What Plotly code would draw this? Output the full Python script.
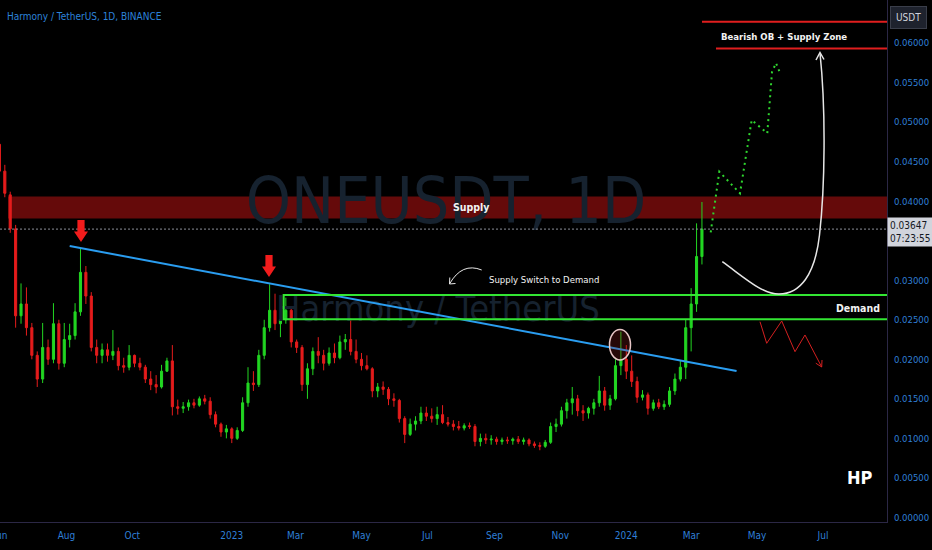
import plotly.graph_objects as go
import pandas as pd

# ---------------- data ----------------
candle_start = "2022-05-31"      # first 5-day candle
candle_step = "5D"

opens = [
    0.0472, 0.0438, 0.0408, 0.0365, 0.0255, 0.0270, 0.0240, 0.0205, 0.0175, 0.0215,
    0.0200, 0.0245, 0.0195, 0.0225, 0.0230, 0.0260, 0.0310, 0.0280, 0.0215, 0.0205,
    0.0212, 0.0205, 0.0210, 0.0192, 0.0190, 0.0205, 0.0195, 0.0190, 0.0175, 0.0168,
    0.0165, 0.0185, 0.0198, 0.0140, 0.0138, 0.0140, 0.0145, 0.0142, 0.0150, 0.0147,
    0.0130, 0.0118, 0.0108, 0.0112, 0.0100, 0.0110, 0.0145, 0.0170, 0.0168, 0.0205,
    0.0240, 0.0262, 0.0245, 0.0250, 0.0262, 0.0222, 0.0215, 0.0168, 0.0188, 0.0210,
    0.0205, 0.0195, 0.0208, 0.0202, 0.0222, 0.0225, 0.0210, 0.0200, 0.0192, 0.0188,
    0.0160, 0.0165, 0.0162, 0.0150, 0.0148, 0.0125, 0.0105, 0.0118, 0.0122, 0.0132,
    0.0128, 0.0125, 0.0130, 0.0120, 0.0118, 0.0115, 0.0113, 0.0116, 0.0115, 0.0096,
    0.0100, 0.0098, 0.0099, 0.0096, 0.0098, 0.0097, 0.0099, 0.0096, 0.0098, 0.0093,
    0.0091, 0.0090, 0.0095, 0.0115, 0.0118, 0.0135, 0.0145, 0.0150, 0.0135, 0.0132,
    0.0138, 0.0145, 0.0160, 0.0142, 0.0150, 0.0192, 0.0200, 0.0185, 0.0172, 0.0152,
    0.0155, 0.0138, 0.0145, 0.0140, 0.0143, 0.0160, 0.0175, 0.0190, 0.0240, 0.0270,
    0.0330,
]
highs = [
    0.0485, 0.0446, 0.0412, 0.0370, 0.0296, 0.0291, 0.0246, 0.0210, 0.0246, 0.0225,
    0.0271, 0.0250, 0.0246, 0.0245, 0.0271, 0.0341, 0.0318, 0.0285, 0.0225, 0.0220,
    0.0220, 0.0237, 0.0215, 0.0202, 0.0218, 0.0206, 0.0202, 0.0193, 0.0185, 0.0180,
    0.0193, 0.0202, 0.0218, 0.0149, 0.0146, 0.0149, 0.0150, 0.0153, 0.0155, 0.0152,
    0.0134, 0.0120, 0.0117, 0.0114, 0.0114, 0.0152, 0.0190, 0.0185, 0.0212, 0.0250,
    0.0295, 0.0283, 0.0280, 0.0278, 0.0265, 0.0225, 0.0218, 0.0195, 0.0215, 0.0228,
    0.0212, 0.0215, 0.0220, 0.0230, 0.0232, 0.0252, 0.0225, 0.0208, 0.0205, 0.0190,
    0.0170, 0.0172, 0.0165, 0.0157, 0.0150, 0.0128, 0.0125, 0.0128, 0.0140, 0.0140,
    0.0138, 0.0140, 0.0142, 0.0127, 0.0123, 0.0122, 0.0119, 0.0120, 0.0118, 0.0106,
    0.0106, 0.0104, 0.0102, 0.0101, 0.0102, 0.0101, 0.0103, 0.0101, 0.0100, 0.0096,
    0.0095, 0.0098, 0.0120, 0.0125, 0.0140, 0.0150, 0.0165, 0.0155, 0.0142, 0.0140,
    0.0150, 0.0179, 0.0165, 0.0155, 0.0200, 0.0235, 0.0218, 0.0205, 0.0178, 0.0161,
    0.0158, 0.0149, 0.0150, 0.0148, 0.0165, 0.0182, 0.0199, 0.0250, 0.0290, 0.0372,
    0.0399,
]
lows = [
    0.0430, 0.0405, 0.0360, 0.0240, 0.0245, 0.0230, 0.0200, 0.0165, 0.0170, 0.0193,
    0.0195, 0.0187, 0.0190, 0.0215, 0.0225, 0.0255, 0.0270, 0.0210, 0.0195, 0.0195,
    0.0197, 0.0199, 0.0186, 0.0183, 0.0186, 0.0190, 0.0186, 0.0170, 0.0161, 0.0157,
    0.0163, 0.0184, 0.0129, 0.0130, 0.0132, 0.0135, 0.0138, 0.0140, 0.0143, 0.0125,
    0.0114, 0.0102, 0.0100, 0.0094, 0.0098, 0.0108, 0.0140, 0.0160, 0.0165, 0.0200,
    0.0235, 0.0237, 0.0228, 0.0245, 0.0215, 0.0208, 0.0160, 0.0150, 0.0180, 0.0195,
    0.0186, 0.0192, 0.0195, 0.0200, 0.0212, 0.0205, 0.0195, 0.0186, 0.0186, 0.0152,
    0.0152, 0.0155, 0.0142, 0.0140, 0.0120, 0.0094, 0.0103, 0.0110, 0.0118, 0.0122,
    0.0120, 0.0117, 0.0118, 0.0115, 0.0110, 0.0110, 0.0110, 0.0112, 0.0090, 0.0090,
    0.0093, 0.0092, 0.0092, 0.0092, 0.0093, 0.0092, 0.0093, 0.0092, 0.0090, 0.0088,
    0.0085, 0.0088, 0.0093, 0.0108, 0.0115, 0.0125, 0.0130, 0.0128, 0.0122, 0.0125,
    0.0130, 0.0140, 0.0135, 0.0136, 0.0148, 0.0180, 0.0175, 0.0165, 0.0145, 0.0148,
    0.0130, 0.0135, 0.0137, 0.0136, 0.0140, 0.0155, 0.0172, 0.0175, 0.0210, 0.0260,
    0.0320,
]
closes = [
    0.0438, 0.0410, 0.0365, 0.0255, 0.0270, 0.0240, 0.0205, 0.0175, 0.0215, 0.0200,
    0.0245, 0.0195, 0.0225, 0.0230, 0.0260, 0.0310, 0.0280, 0.0215, 0.0205, 0.0212,
    0.0205, 0.0210, 0.0192, 0.0190, 0.0205, 0.0195, 0.0190, 0.0175, 0.0168, 0.0165,
    0.0185, 0.0198, 0.0140, 0.0138, 0.0140, 0.0145, 0.0142, 0.0150, 0.0147, 0.0130,
    0.0118, 0.0108, 0.0112, 0.0100, 0.0110, 0.0145, 0.0170, 0.0168, 0.0205, 0.0240,
    0.0262, 0.0245, 0.0250, 0.0262, 0.0222, 0.0215, 0.0168, 0.0188, 0.0210, 0.0205,
    0.0195, 0.0208, 0.0202, 0.0222, 0.0225, 0.0210, 0.0200, 0.0192, 0.0188, 0.0160,
    0.0165, 0.0162, 0.0150, 0.0148, 0.0125, 0.0105, 0.0118, 0.0122, 0.0132, 0.0128,
    0.0125, 0.0130, 0.0120, 0.0118, 0.0115, 0.0113, 0.0116, 0.0115, 0.0096, 0.0100,
    0.0098, 0.0099, 0.0096, 0.0098, 0.0097, 0.0099, 0.0096, 0.0098, 0.0093, 0.0091,
    0.0090, 0.0095, 0.0115, 0.0118, 0.0135, 0.0145, 0.0150, 0.0135, 0.0132, 0.0138,
    0.0145, 0.0160, 0.0142, 0.0150, 0.0192, 0.0200, 0.0185, 0.0172, 0.0152, 0.0155,
    0.0138, 0.0145, 0.0140, 0.0143, 0.0160, 0.0175, 0.0190, 0.0240, 0.0270, 0.0330,
    0.03647,
]

trend_dates = ["2022-08-04", "2024-04-12"]
trend_prices = [0.03433, 0.01852]

supply_zone = [0.0378, 0.0406]
demand_zone = [0.02506, 0.02813]
demand_start = "2023-02-18"
bearish_ob_lines = [0.0627, 0.0593]
last_price = 0.03647
last_price_text = "0.03647"
countdown_text = "07:23:55"

price_ticks = [0.0, 0.005, 0.010, 0.015, 0.020, 0.025, 0.030, 0.040, 0.045, 0.050,
               0.055, 0.060]
tick_dates = ["2022-06-01", "2022-08-01", "2022-10-01", "2023-01-01", "2023-03-01",
              "2023-05-01", "2023-07-01", "2023-09-01", "2023-11-01", "2024-01-01",
              "2024-03-01", "2024-05-01", "2024-07-01"]
tick_labels = ["Jun", "Aug", "Oct", "2023", "Mar", "May", "Jul", "Sep", "Nov", "2024",
               "Mar", "May", "Jul"]

# ---------------- styling / geometry ----------------
FONT = "DejaVu Sans Condensed, DejaVu Sans, sans-serif"
BLUE = "#2f7fd6"
GREEN = "#22d622"
RED = "#e51c1c"
ZONE_GREEN = "#33e633"
AXIS = "#2b2745"

W, H = 887.0, 522.0                     # plot area in pixels
X_RANGE = ["2022-05-31 13:00", "2024-08-29 05:00"]
Y_RANGE = [-0.00058, 0.06545]


def px(x):
    return x / W


def py(y):
    return 1 - y / H


def poly(points, closed=False):
    s = "M " + " L ".join(f"{px(a):.5f},{py(b):.5f}" for a, b in points)
    return s + (" Z" if closed else "")


def P(a, b):
    return f"{px(a):.5f},{py(b):.5f}"


x0 = pd.Timestamp(X_RANGE[0])
x1 = pd.Timestamp(X_RANGE[1])


def pdate(xpix):
    return x0 + (x1 - x0) * (xpix / W)


def pprice(ypix):
    return Y_RANGE[1] - (Y_RANGE[1] - Y_RANGE[0]) * (ypix / H)


dates = pd.date_range(start=candle_start, periods=len(closes), freq=candle_step)

fig = go.Figure()

# watermark (drawn first -> below candles)
fig.add_trace(go.Scatter(
    x=[pdate(446)], y=[pprice(207)], mode="text", text=["ONEUSDT, 1D"],
    textfont=dict(family=FONT, size=64, color="#16222f"),
    hoverinfo="skip", showlegend=False, cliponaxis=False))
fig.add_trace(go.Scatter(
    x=[pdate(438)], y=[pprice(312)], mode="text", text=["Harmony / TetherUS"],
    textfont=dict(family=FONT, size=36, color="#16222f"),
    hoverinfo="skip", showlegend=False, cliponaxis=False))

fig.add_trace(go.Candlestick(
    x=dates, open=opens, high=highs, low=lows, close=closes,
    increasing=dict(line=dict(color=GREEN, width=1), fillcolor=GREEN),
    decreasing=dict(line=dict(color=RED, width=1), fillcolor=RED),
    whiskerwidth=0, hoverinfo="skip", showlegend=False))

fig.add_trace(go.Scatter(
    x=trend_dates, y=trend_prices, mode="lines",
    line=dict(color="#2a9df0", width=2), hoverinfo="skip", showlegend=False))

shapes = []
# supply band
shapes.append(dict(type="rect", xref="paper", yref="y", x0=px(8), x1=1,
                   y0=supply_zone[0], y1=supply_zone[1],
                   fillcolor="#650a0a", line=dict(width=0), layer="below"))
# last price dotted line
shapes.append(dict(type="line", xref="paper", yref="y", x0=0, x1=1,
                   y0=last_price, y1=last_price,
                   line=dict(color="#8c8f99", width=1, dash="2px,2px")))
# demand box
shapes.append(dict(type="rect", xref="x", yref="y", x0=demand_start, x1="2024-10-30",
                   y0=demand_zone[0], y1=demand_zone[1],
                   line=dict(color=ZONE_GREEN, width=2)))
# bearish OB lines
shapes.append(dict(type="line", xref="paper", yref="y", x0=px(702), x1=1,
                   y0=bearish_ob_lines[0], y1=bearish_ob_lines[0],
                   line=dict(color="#e01e1e", width=2)))
shapes.append(dict(type="line", xref="paper", yref="y", x0=px(716), x1=1,
                   y0=bearish_ob_lines[1], y1=bearish_ob_lines[1],
                   line=dict(color="#e01e1e", width=2)))
# red down arrows
for cx, top in [(81, 220), (269, 255)]:
    shapes.append(dict(type="path", xref="paper", yref="paper",
                       path=poly([(cx - 3.6, top), (cx + 3.6, top), (cx + 3.6, top + 11.5),
                                  (cx + 7, top + 11.5), (cx, top + 22), (cx - 7, top + 11.5),
                                  (cx - 3.6, top + 11.5)], closed=True),
                       fillcolor="#f21c1c", line=dict(width=0)))
# circle around Jan-2024 high
shapes.append(dict(type="circle", xref="paper", yref="paper",
                   x0=px(609.5), x1=px(630.5), y0=py(360), y1=py(329.5),
                   fillcolor="rgba(150,30,30,0.25)", line=dict(color="#e6c6c6", width=1.5)))
# supply -> demand curved arrow
shapes.append(dict(type="path", xref="paper", yref="paper",
                   path=f"M {P(481.7, 270)} Q {P(462, 262)} {P(449.5, 284)}",
                   line=dict(color="#e8e8e8", width=1)))
shapes.append(dict(type="path", xref="paper", yref="paper",
                   path=poly([(449.8, 277.5), (449.5, 284), (455.5, 283.5)]),
                   line=dict(color="#e8e8e8", width=1)))
# white U-shaped arrow
shapes.append(dict(type="path", xref="paper", yref="paper",
                   path=(f"M {P(722.3, 261.7)} C {P(745, 278)} {P(762, 294)} {P(779, 294)} "
                         f"C {P(800, 294)} {P(815, 275)} {P(819.5, 235)} "
                         f"C {P(825, 187)} {P(826, 110)} {P(820, 53)}"),
                   line=dict(color="#e6e6e6", width=1.5)))
shapes.append(dict(type="path", xref="paper", yref="paper",
                   path=poly([(816, 60), (820, 52.5), (824, 59.5)]),
                   line=dict(color="#e6e6e6", width=1.5)))
# green dotted projection
shapes.append(dict(type="path", xref="paper", yref="paper",
                   path=poly([(710.7, 232.3), (719.3, 171.7), (740, 193.3), (751.7, 120),
                              (767.3, 133.3), (772, 72), (776, 63), (780, 73)]),
                   line=dict(color="#2fd62f", width=2, dash="2px,4px")))
# red zig-zag projection
shapes.append(dict(type="path", xref="paper", yref="paper",
                   path=poly([(760, 321.7), (766.7, 343.3), (781.7, 321), (795, 351.7),
                              (805, 335), (821.7, 367)]),
                   line=dict(color="#d42020", width=1)))
shapes.append(dict(type="path", xref="paper", yref="paper",
                   path=poly([(815.8, 363.2), (821.7, 367), (822, 360)]),
                   line=dict(color="#d42020", width=1)))


def note(x, y, text, size, color="#f2f2f2", xanchor="center", **kw):
    return dict(x=px(x), y=py(y), xref="paper", yref="paper", xanchor=xanchor,
                yanchor="middle", text=text, showarrow=False,
                font=dict(family=FONT, size=size, color=color), **kw)


annotations = [
    note(5, 16, "Harmony / TetherUS, 1D, BINANCE", 10, color="#2d83da", xanchor="left"),
    note(470.5, 206.5, "<b>Supply</b>", 10.5),
    note(487, 279, "Supply Switch to Demand", 9.5, xanchor="left"),
    note(882, 308, "<b>Demand</b>", 10.5, xanchor="right"),
    note(719, 36.5, "<b>Bearish OB + Supply Zone</b>", 9.5, xanchor="left"),
    note(860, 477, "<b>HP</b>", 18, color="#ffffff"),
    note(908.5, 18, "USDT", 10, color="#d1d4dc", bgcolor="#1e222d",
         bordercolor="#3a3e4a", borderwidth=1, borderpad=5),
    note(910, 232, f"{last_price_text}<br>{countdown_text}", 10, color="#131722",
         bgcolor="#d1d4dc", borderpad=2, align="left"),
]

fig.update_layout(
    width=932, height=550,
    margin=dict(l=0, r=45, t=0, b=28, autoexpand=False),
    paper_bgcolor="#000000", plot_bgcolor="#000000",
    showlegend=False, boxgap=0.45,
    shapes=shapes, annotations=annotations,
    xaxis=dict(range=X_RANGE, tickvals=tick_dates, ticktext=tick_labels,
               showgrid=False, zeroline=False, showline=True, linecolor=AXIS, linewidth=1,
               ticks="", ticklabeloverflow="allow", automargin=False, ticklabelstandoff=4,
               tickfont=dict(family=FONT, size=10, color=BLUE),
               rangeslider=dict(visible=False), fixedrange=True),
    yaxis=dict(side="right", range=Y_RANGE, tickvals=price_ticks, tickformat=".5f",
               showgrid=False, zeroline=False, showline=True, linecolor=AXIS, linewidth=1,
               ticks="", ticklabelstandoff=4, automargin=False,
               tickfont=dict(family=FONT, size=9.5, color=BLUE), fixedrange=True),
)

fig.write_html("out.html", config={"displayModeBar": False},
               post_script="document.body.style.margin='0';document.body.style.overflow='hidden';")
